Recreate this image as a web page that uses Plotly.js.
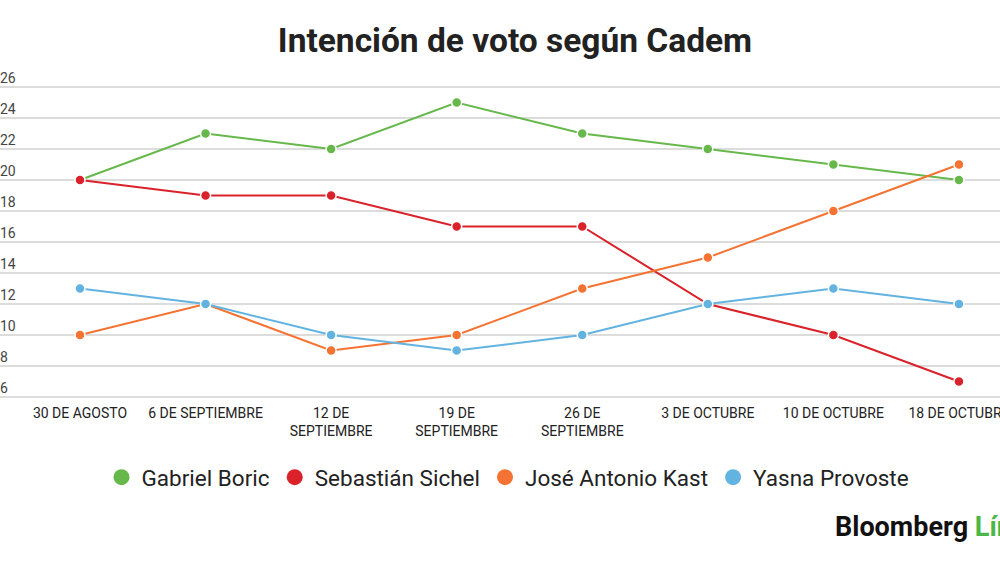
<!DOCTYPE html>
<html>
<head>
<meta charset="utf-8">
<script src="https://cdn.plot.ly/plotly-3.0.1.min.js"></script>
<style>
  html, body { margin: 0; padding: 0; background: #fff; }
  #chart { width: 1000px; height: 562px; }
</style>
</head>
<body>
<div id="chart"></div>
<script>
// Cadem, intención de voto (%)
const fechas = [
    '30 DE AGOSTO', '6 DE SEPTIEMBRE', '12 DE<br>SEPTIEMBRE', '19 DE<br>SEPTIEMBRE',
    '26 DE<br>SEPTIEMBRE', '3 DE OCTUBRE', '10 DE OCTUBRE', '18 DE OCTUBRE'
];
const candidatos = ['Gabriel Boric', 'Sebastián Sichel', 'José Antonio Kast', 'Yasna Provoste'];
const boric = [20, 23, 22, 25, 23, 22, 21, 20];
const sichel = [20, 19, 19, 17, 17, 12, 10, 7];
const kast = [10, 12, 9, 10, 13, 15, 18, 21];
const provoste = [13, 12, 10, 9, 10, 12, 13, 12];
const yTicks = [6, 8, 10, 12, 14, 16, 18, 20, 22, 24, 26];

const colores = ['#66b84b', '#d9222a', '#f47332', '#63b3e0'];
const series = [boric, sichel, kast, provoste];

let traces = [];

series.forEach((ys, i) => {
    traces.push({
        x: fechas.map((_, j) => j),
        y: ys,
        name: candidatos[i],
        mode: 'lines+markers',
        type: 'scatter',
        showlegend: false,
        line: { color: colores[i], width: 2 },
        marker: { color: colores[i], size: 10, line: { color: '#fff', width: 1.5 } },
        hoverinfo: 'none'
    });
});

// legend entries: dot only
candidatos.forEach((nombre, i) => {
    traces.push({
        x: [null],
        y: [null],
        name: nombre,
        mode: 'markers',
        type: 'scatter',
        marker: { color: colores[i], size: 16 }
    });
});

let layout = {
    width: 1000,
    height: 562,
    margin: { l: 0, r: 0, t: 85, b: 163 },
    paper_bgcolor: '#fff',
    plot_bgcolor: '#fff',
    font: { family: 'Roboto, sans-serif', color: '#333' },
    title: {
        text: '<b>Intención de voto según Cadem</b>',
        font: { family: 'Roboto, sans-serif', size: 33.5, color: '#222' },
        x: 0.515,
        xanchor: 'center',
        y: 0.929,
        yanchor: 'middle'
    },
    xaxis: {
        range: [-0.637, 7.327],
        tickvals: fechas.map((_, j) => j),
        ticktext: fechas,
        showgrid: false,
        zeroline: false,
        showline: false,
        ticks: '',
        ticklabelstandoff: 4,
        ticklabeloverflow: 'allow',
        tickfont: { family: 'Roboto, sans-serif', size: 14, color: '#222' },
        fixedrange: true
    },
    yaxis: {
        range: [5.87, 26.13],
        tickvals: yTicks,
        ticktext: yTicks.map(String),
        ticklabelposition: 'inside',
        ticklabeloverflow: 'allow',
        ticklabelstandoff: -3,
        ticklabelshift: -9,
        showgrid: true,
        gridcolor: '#dcdcdc',
        gridwidth: 1.5,
        zeroline: false,
        showline: false,
        ticks: '',
        tickfont: { family: 'Roboto, sans-serif', size: 14, color: '#444' },
        fixedrange: true
    },
    legend: {
        orientation: 'h',
        x: 0.508,
        xanchor: 'center',
        y: -0.25,
        yanchor: 'middle',
        font: { family: 'Roboto, sans-serif', size: 22.5, color: '#222' },
        itemclick: false
    },
    annotations: [{
        text: '<b>Bloomberg</b> <b><span style="color:#4cb648">Línea</span></b>',
        xref: 'paper',
        yref: 'paper',
        x: 0.833,
        xanchor: 'left',
        y: -0.407,
        yanchor: 'middle',
        showarrow: false,
        font: { family: 'Roboto, sans-serif', size: 27, color: '#111' }
    }]
};

Plotly.newPlot('chart', traces, layout, { displayModeBar: false, staticPlot: true });
</script>
</body>
</html>
